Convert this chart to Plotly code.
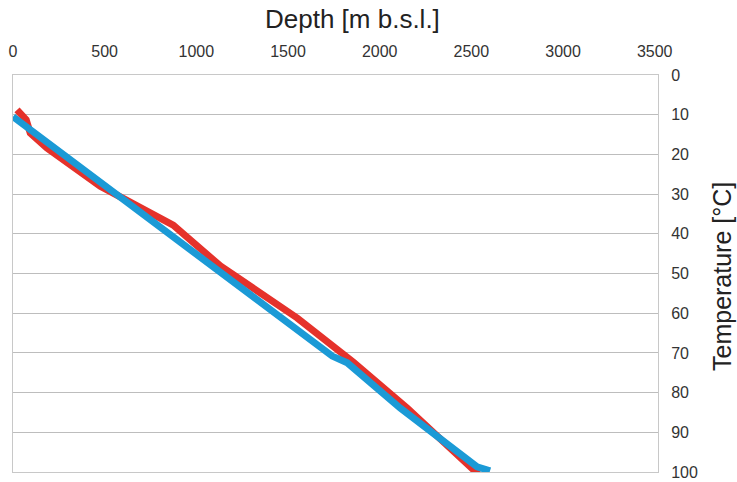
import plotly.graph_objects as go

# Red profile (depth m b.s.l., temperature °C)
red_depth = [22, 72, 94, 185, 476, 695, 874, 1131, 1550, 1855, 2150, 2548]
red_temp = [8.8, 11.3, 14.6, 18.4, 28.0, 33.5, 37.8, 48.1, 61.2, 72.3, 83.9, 101.0]

# Blue profile
blue_depth = [0, 1741, 1823, 2112, 2531, 2602]
blue_temp = [10.5, 70.8, 72.5, 83.9, 98.7, 99.7]

x_ticks = [0, 500, 1000, 1500, 2000, 2500, 3000, 3500]
y_ticks = [0, 10, 20, 30, 40, 50, 60, 70, 80, 90, 100]

W, H = 737, 482
L, R, T, B = 13, 79, 75, 10
pw, ph = W - L - R, H - T - B

fig = go.Figure()
fig.add_trace(go.Scatter(x=red_depth, y=red_temp, mode="lines",
                         line=dict(color="#e5322b", width=7), cliponaxis=False,
                         showlegend=False, hoverinfo="skip"))
fig.add_trace(go.Scatter(x=blue_depth, y=blue_temp, mode="lines",
                         line=dict(color="#1b9ad6", width=7), cliponaxis=False,
                         showlegend=False, hoverinfo="skip"))

font = dict(family="Liberation Sans, Arial, sans-serif", color="#333333")

fig.update_layout(
    width=W, height=H,
    margin=dict(l=L, r=R, t=T, b=B, pad=0, autoexpand=False),
    plot_bgcolor="white", paper_bgcolor="white",
    font=font,
    xaxis=dict(side="top", range=[0, 3518], tickvals=x_ticks,
               showgrid=False, zeroline=False, automargin=False,
               showline=True, mirror=True, linecolor="#c8c8c8", linewidth=1,
               ticks="outside", ticklen=11, tickcolor="rgba(0,0,0,0)",
               tickfont=dict(size=16, color="#333333")),
    yaxis=dict(side="right", range=[100, 0], tickvals=y_ticks,
               showgrid=True, gridcolor="#bdbdbd", gridwidth=1,
               zeroline=False, automargin=False,
               showline=True, mirror=True, linecolor="#c8c8c8", linewidth=1,
               ticks="outside", ticklen=9, tickcolor="rgba(0,0,0,0)",
               tickfont=dict(size=16, color="#333333")),
    annotations=[
        dict(text="Depth [m b.s.l.]", xref="paper", yref="paper",
             x=(352 - L) / pw, y=(H - B - 19) / ph, showarrow=False,
             xanchor="center", yanchor="middle",
             font=dict(size=26, color="#222222")),
        dict(text="Temperature [°C]", xref="paper", yref="paper",
             x=(722 - L) / pw, y=(H - B - 277) / ph, showarrow=False,
             xanchor="center", yanchor="middle", textangle=-90,
             font=dict(size=25, color="#222222")),
    ],
)

# remove the browser's default 8px body margin so the figure fills the window
fig.write_html("out.html",
               config={"displayModeBar": False},
               post_script="document.body.style.margin='0';"
                           "document.body.style.overflow='hidden';")
